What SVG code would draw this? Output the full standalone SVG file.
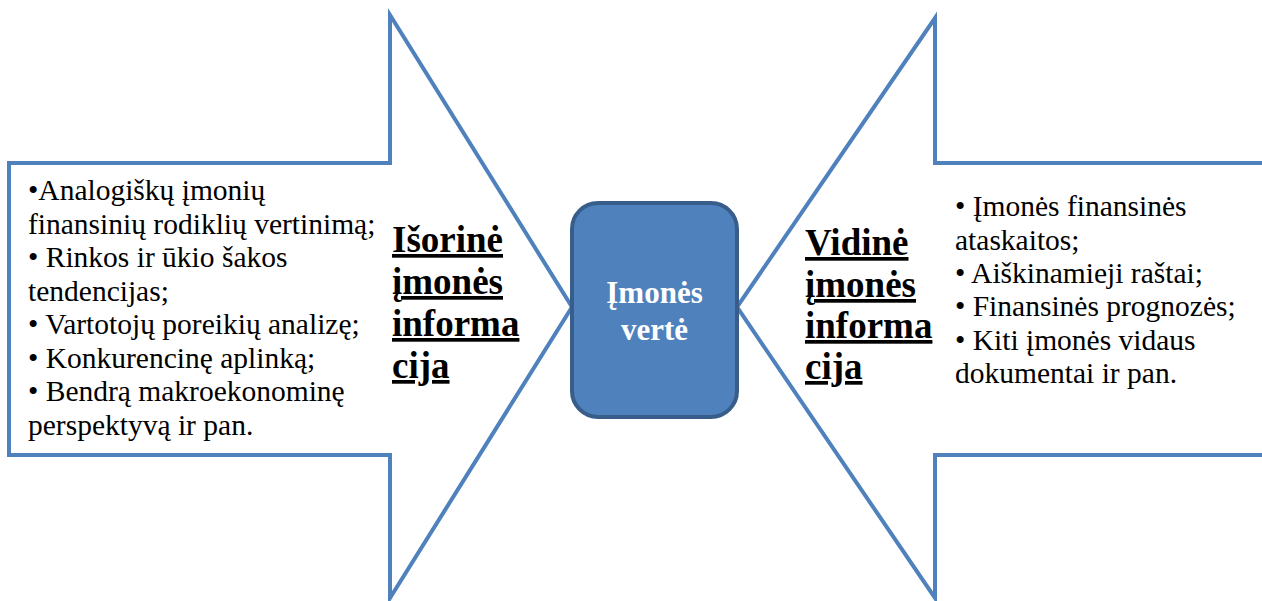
<svg xmlns="http://www.w3.org/2000/svg" width="1262" height="601" viewBox="0 0 1262 601">
  <style>
    .arrow { fill: #ffffff; stroke: #4f81bd; stroke-width: 4; stroke-linejoin: miter; }
    .box { fill: #4f81bd; stroke: #385d8a; stroke-width: 4; }
    text { font-family: 'Liberation Serif', 'DejaVu Serif', serif; }
    .list { font-size: 29.5px; fill: #000000; }
    .head { font-size: 37px; font-weight: bold; fill: #000000; text-decoration: underline; text-decoration-thickness: 3px; }
    .center { font-size: 31px; font-weight: bold; fill: #ffffff; text-anchor: middle; }
  </style>
  <rect width="1262" height="601" fill="#ffffff"/>

  <!-- External information arrow pointing right -->
  <g id="external">
    <path class="arrow" d="M9 163 H390 V15 L572 307 L390 598 V455 H9 Z"/>
    <text class="list" x="28" y="200">•Analogiškų įmonių</text>
    <text class="list" x="28" y="233.5">finansinių rodiklių vertinimą;</text>
    <text class="list" x="28" y="267">• Rinkos ir ūkio šakos</text>
    <text class="list" x="28" y="300.5">tendencijas;</text>
    <text class="list" x="28" y="334">• Vartotojų poreikių analizę;</text>
    <text class="list" x="28" y="367.5">• Konkurencinę aplinką;</text>
    <text class="list" x="28" y="401">• Bendrą makroekonominę</text>
    <text class="list" x="28" y="434.5">perspektyvą ir pan.</text>
    <text class="head" x="392" y="252">Išorinė</text>
    <text class="head" x="392" y="294">įmonės</text>
    <text class="head" x="392" y="336">informa</text>
    <text class="head" x="392" y="378">cija</text>
  </g>

  <!-- Internal information arrow pointing left -->
  <g id="internal">
    <path class="arrow" d="M1264 163 H935 V18 L737 307 L935 598 V455 H1264"/>
    <text class="head" x="805" y="255">Vidinė</text>
    <text class="head" x="805" y="297">įmonės</text>
    <text class="head" x="805" y="338">informa</text>
    <text class="head" x="805" y="379">cija</text>
    <text class="list" x="955" y="216">• Įmonės finansinės</text>
    <text class="list" x="955" y="249.5">ataskaitos;</text>
    <text class="list" x="955" y="283">• Aiškinamieji raštai;</text>
    <text class="list" x="955" y="316">• Finansinės prognozės;</text>
    <text class="list" x="955" y="349.5">• Kiti įmonės vidaus</text>
    <text class="list" x="955" y="383">dokumentai ir pan.</text>
  </g>

  <!-- Company value -->
  <g id="value">
    <rect class="box" x="572" y="203" width="165" height="214" rx="26" ry="26"/>
    <text class="center" x="654.5" y="303">Įmonės</text>
    <text class="center" x="654.5" y="340">vertė</text>
  </g>

  <g id="connectors"/>
</svg>
